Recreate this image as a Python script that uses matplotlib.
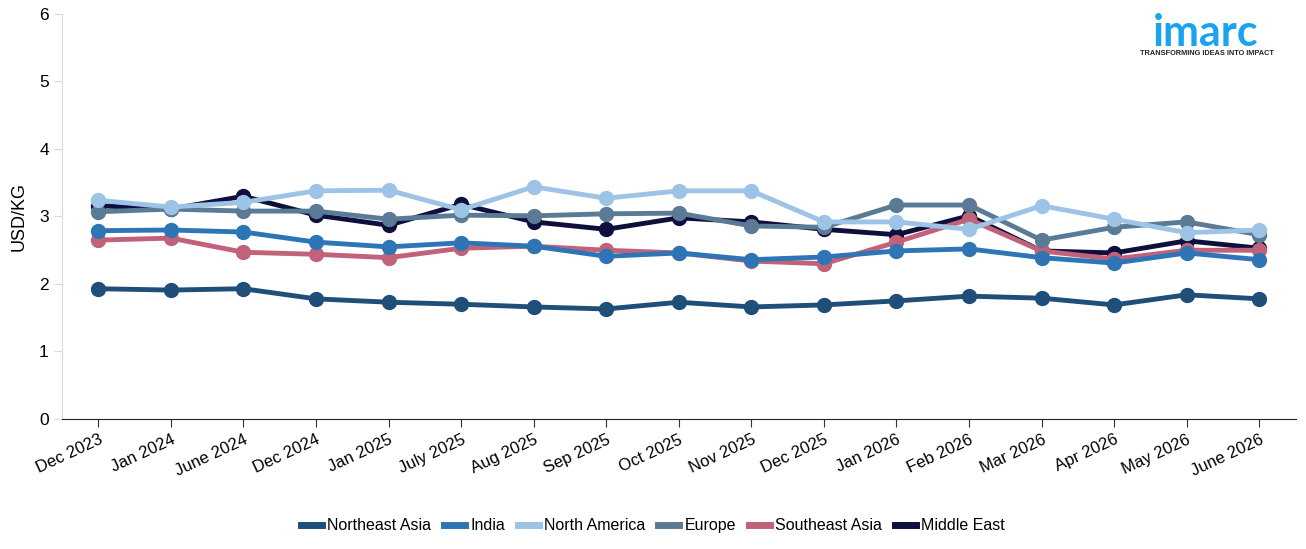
import matplotlib.pyplot as plt
import numpy as np

plt.rcParams["font.family"] = ["Liberation Sans", "DejaVu Sans"]

# ─── Données ────────────────────────────────────────────────────────────────
months = ["Dec 2023", "Jan 2024", "June 2024", "Dec 2024", "Jan 2025", "July 2025",
          "Aug 2025", "Sep 2025", "Oct 2025", "Nov 2025", "Dec 2025", "Jan 2026",
          "Feb 2026", "Mar 2026", "Apr 2026", "May 2026", "June 2026"]

northeast_asia = [1.93, 1.91, 1.93, 1.78, 1.73, 1.70, 1.66, 1.63, 1.73, 1.66, 1.69, 1.75, 1.82, 1.79, 1.69, 1.84, 1.78]
india = [2.79, 2.80, 2.77, 2.62, 2.55, 2.61, 2.56, 2.41, 2.46, 2.36, 2.40, 2.49, 2.52, 2.39, 2.31, 2.46, 2.36]
north_america = [3.24, 3.14, 3.21, 3.38, 3.39, 3.10, 3.44, 3.27, 3.38, 3.38, 2.92, 2.92, 2.81, 3.16, 2.96, 2.76, 2.80]
europe = [3.07, 3.11, 3.08, 3.08, 2.96, 3.02, 3.01, 3.04, 3.05, 2.86, 2.84, 3.17, 3.17, 2.65, 2.84, 2.92, 2.73]
southeast_asia = [2.65, 2.68, 2.47, 2.44, 2.39, 2.53, 2.56, 2.50, 2.46, 2.34, 2.30, 2.62, 2.96, 2.49, 2.37, 2.50, 2.50]
middle_east = [3.16, 3.11, 3.30, 3.02, 2.87, 3.18, 2.92, 2.81, 2.98, 2.92, 2.81, 2.73, 3.01, 2.49, 2.46, 2.64, 2.53]

series = [
    ("Northeast Asia", northeast_asia, "#1f4e79"),
    ("India", india, "#2e75b6"),
    ("North America", north_america, "#9dc3e6"),
    ("Europe", europe, "#5b7a95"),
    ("Southeast Asia", southeast_asia, "#c0627a"),
    ("Middle East", middle_east, "#0f0f3d"),
]
# ordre de dessin (dessous -> dessus)
z_order = {"Middle East": 2, "Southeast Asia": 3, "Europe": 4, "India": 5,
           "North America": 6, "Northeast Asia": 7}

# ─── Figure ─────────────────────────────────────────────────────────────────
fig = plt.figure(figsize=(13.06, 5.49), dpi=100)
ax = fig.add_axes([0.0475, 0.2368, 0.9445, 0.7377])

x = np.arange(len(months))
for name, vals, col in series:
    ax.plot(x, vals, "-o", color=col, lw=3.5, ms=10, label=name,
            zorder=z_order[name], solid_capstyle="round")

ax.set_xlim(-0.5, len(months) - 0.5)
ax.set_ylim(0, 6)
ax.set_xticks(x)
ax.set_xticklabels(months, rotation=25, ha="right", rotation_mode="anchor", fontsize=12)
ax.set_yticks(range(7))
ax.tick_params(axis="y", labelsize=12.5, color="#d9d9d9", length=6)
ax.tick_params(axis="x", color="#333333", length=6)
ax.set_ylabel("USD/KG", fontsize=13, labelpad=8)

for s in ["top", "right"]:
    ax.spines[s].set_visible(False)
ax.spines["left"].set_color("#d9d9d9")
ax.spines["bottom"].set_color("#222222")

handles = [plt.Line2D([0], [0], color=c, lw=5) for _, _, c in series]
fig.legend(handles, [n for n, _, _ in series], loc="center", bbox_to_anchor=(0.5, 0.042),
           ncol=6, frameon=False, fontsize=11.5, handlelength=1.3, handletextpad=0.35,
           columnspacing=0.8)

# logo imarc
fig.text(0.9235, 0.94, "imarc", color="#1aa3f0", fontsize=31, fontweight="bold",
         ha="center", va="center", family="Lato")
fig.text(0.9245, 0.902, "TRANSFORMING IDEAS INTO IMPACT", color="#222222", fontsize=5.3,
         fontweight="bold", ha="center", va="center")

fig.savefig("out.png", dpi=100)
